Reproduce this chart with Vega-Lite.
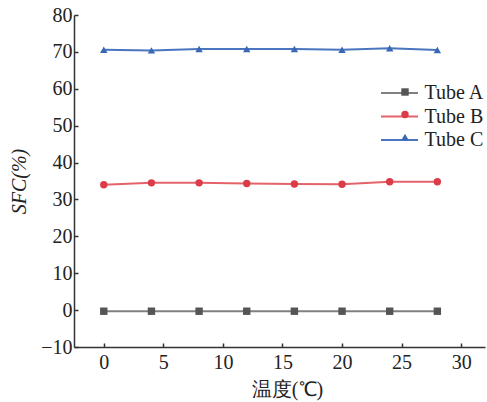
{
  "$schema": "https://vega.github.io/schema/vega-lite/v6.json",
  "autosize": {"type": "none"},
  "padding": {"left": 74, "top": 15, "right": 2, "bottom": 55},
  "width": 411,
  "height": 332,
  "background": "white",
  "config": {
    "view": {"stroke": null},
    "font": "Liberation Serif",
    "axis": {
      "grid": false,
      "domainColor": "#333333",
      "domainWidth": 1.5,
      "tickColor": "#333333",
      "tickWidth": 1.5,
      "labelFont": "Liberation Serif",
      "labelFontSize": 20,
      "labelColor": "#222222",
      "titleFont": "Liberation Serif",
      "titleFontSize": 20,
      "titleFontWeight": "normal",
      "titleColor": "#222222"
    },
    "legend": {
      "labelFont": "Liberation Serif",
      "labelFontSize": 20,
      "labelColor": "#222222"
    }
  },
  "data": {
    "values": [
      {"t": 0, "tube": "Tube A", "v": -0.3},
      {"t": 4, "tube": "Tube A", "v": -0.3},
      {"t": 8, "tube": "Tube A", "v": -0.3},
      {"t": 12, "tube": "Tube A", "v": -0.3},
      {"t": 16, "tube": "Tube A", "v": -0.3},
      {"t": 20, "tube": "Tube A", "v": -0.3},
      {"t": 24, "tube": "Tube A", "v": -0.3},
      {"t": 28, "tube": "Tube A", "v": -0.3},
      {"t": 0, "tube": "Tube B", "v": 34.0},
      {"t": 4, "tube": "Tube B", "v": 34.5},
      {"t": 8, "tube": "Tube B", "v": 34.5},
      {"t": 12, "tube": "Tube B", "v": 34.3},
      {"t": 16, "tube": "Tube B", "v": 34.2},
      {"t": 20, "tube": "Tube B", "v": 34.1},
      {"t": 24, "tube": "Tube B", "v": 34.8},
      {"t": 28, "tube": "Tube B", "v": 34.8},
      {"t": 0, "tube": "Tube C", "v": 70.6},
      {"t": 4, "tube": "Tube C", "v": 70.4},
      {"t": 8, "tube": "Tube C", "v": 70.8},
      {"t": 12, "tube": "Tube C", "v": 70.8},
      {"t": 16, "tube": "Tube C", "v": 70.8},
      {"t": 20, "tube": "Tube C", "v": 70.6},
      {"t": 24, "tube": "Tube C", "v": 71.0},
      {"t": 28, "tube": "Tube C", "v": 70.5}
    ]
  },
  "encoding": {
    "x": {
      "field": "t",
      "type": "quantitative",
      "scale": {"domain": [-2.5, 32], "nice": false, "zero": false},
      "axis": {
        "values": [0, 5, 10, 15, 20, 25, 30],
        "tickSize": -4,
        "labelPadding": 9,
        "title": "温度(℃)",
        "titleX": 213,
        "titleY": 42,
        "titleBaseline": "middle",
        "titleAlign": "center"
      }
    },
    "y": {
      "field": "v",
      "type": "quantitative",
      "scale": {"domain": [-10, 80], "nice": false, "zero": false},
      "axis": {
        "values": [-10, 0, 10, 20, 30, 40, 50, 60, 70, 80],
        "tickSize": -4,
        "labelPadding": 6,
        "title": "SFC(%)",
        "titleFontStyle": "italic",
        "titleAngle": -90,
        "titleX": -55,
        "titleY": 166,
        "titleBaseline": "middle",
        "titleAlign": "center"
      }
    }
  },
  "layer": [
    {
      "mark": {"type": "line", "strokeWidth": 2},
      "encoding": {
        "color": {
          "field": "tube",
          "type": "nominal",
          "scale": {"range": ["#808080", "#e4636b", "#4a76c0"]},
          "legend": {
            "title": null,
            "orient": "none",
            "legendX": 306,
            "legendY": 67,
            "symbolType": "M-1.85,0H1.85",
            "symbolSize": 400,
            "symbolStrokeWidth": 2,
            "symbolOffset": 8.5,
            "labelOffset": 14,
            "rowPadding": 2.5,
            "padding": 0
          }
        }
      }
    },
    {
      "mark": {"type": "point", "filled": true, "size": 55, "opacity": 1},
      "encoding": {
        "fill": {
          "field": "tube",
          "type": "nominal",
          "scale": {"domain": ["Tube A", "Tube B", "Tube C"], "range": ["#555555", "#dc3c48", "#3a68b4"]},
          "legend": {
            "title": null,
            "orient": "none",
            "legendX": 321,
            "legendY": 67,
            "symbolSize": 55,
            "symbolStrokeWidth": 0,
            "labelExpr": "''",
            "rowPadding": 2.5,
            "padding": 0
          }
        },
        "shape": {
          "field": "tube",
          "type": "nominal",
          "scale": {"domain": ["Tube A", "Tube B", "Tube C"], "range": ["square", "circle", "triangle-up"]}
        }
      }
    }
  ]
}
